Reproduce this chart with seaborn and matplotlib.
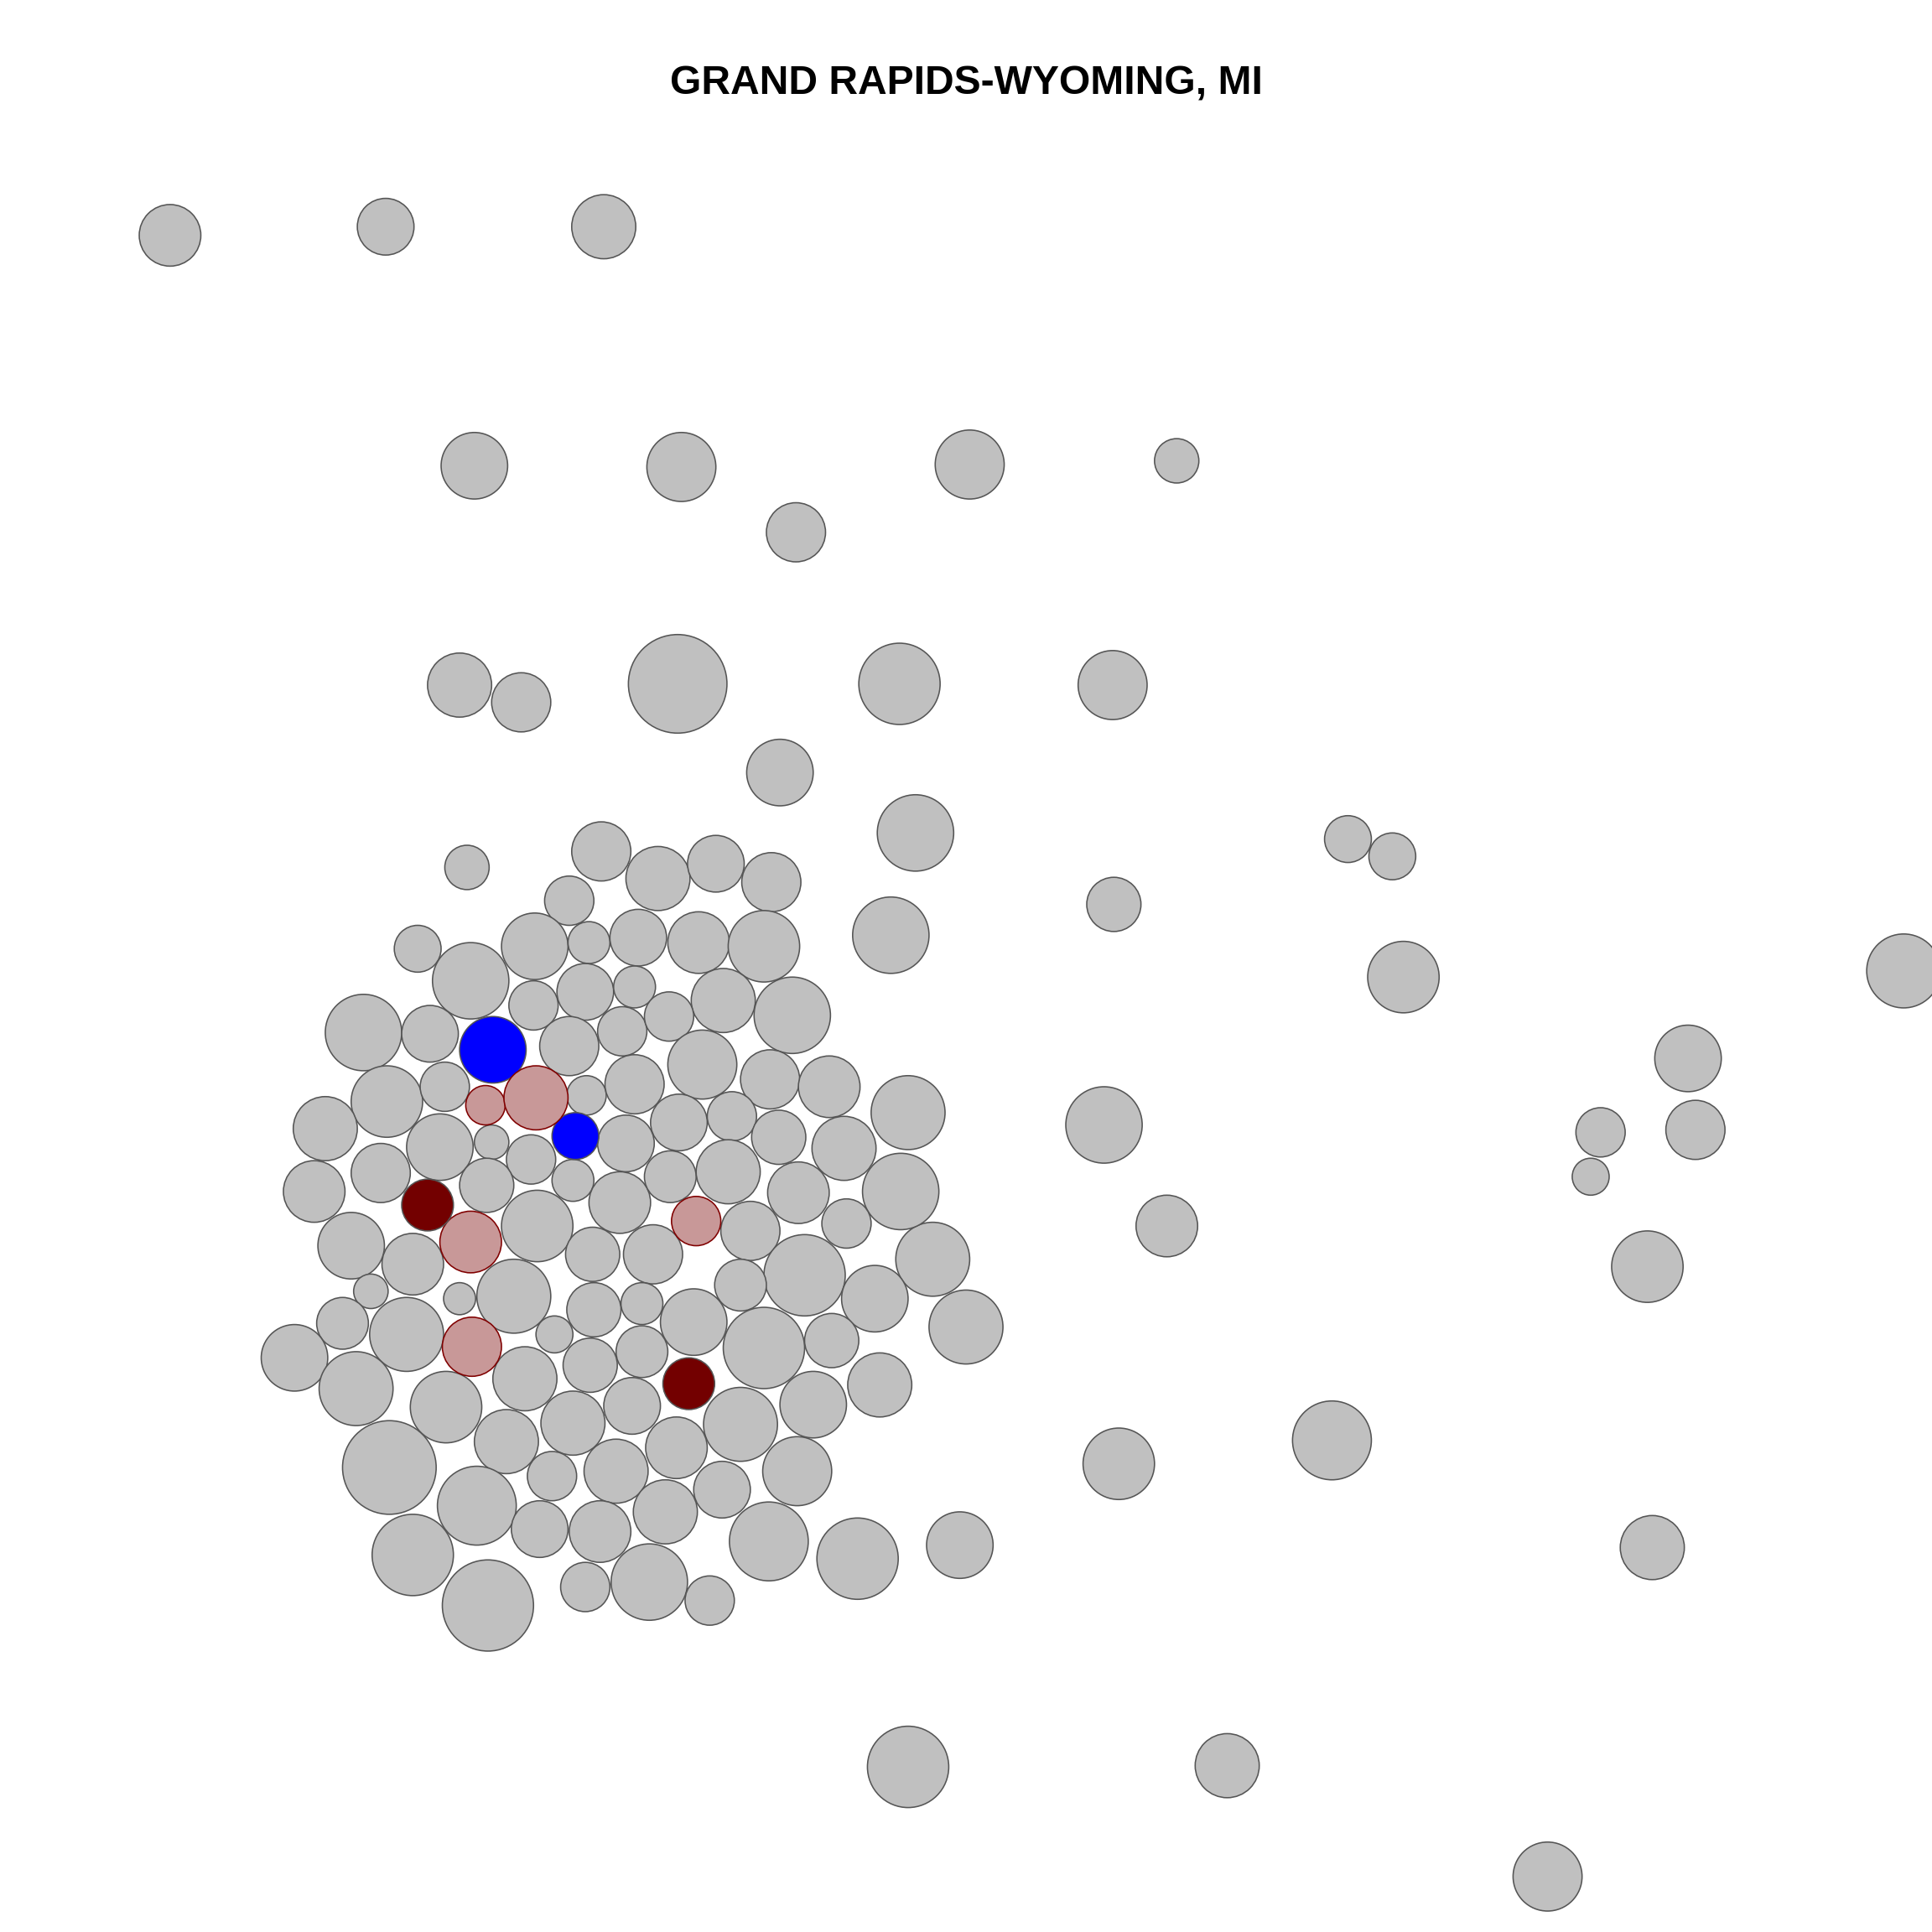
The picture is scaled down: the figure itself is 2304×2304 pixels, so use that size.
import numpy as np
import pandas as pd
import matplotlib
matplotlib.use("Agg")
import matplotlib.pyplot as plt
import seaborn as sns

# bubble layout coordinates (layout units), radius-like value and group
x = [138, 313, 490, 385, 553, 787, 955, 646, 373, 423, 550, 730, 903, 633, 743, 1094, 1130, 904, 723, 1139,
     1545, 1370, 1299, 1376, 1291, 896, 947, 1337, 1081, 908, 1341, 737, 996, 1256, 779, 696, 784, 757, 731, 737, 714,
     379, 488, 534, 581, 626, 462, 339, 434, 478, 518, 567, 620, 382, 433, 475, 515, 587, 643, 295, 349, 400, 462,
     505, 543, 570, 314, 361, 394, 435, 476, 515, 625, 673, 264, 357, 399, 431, 467, 508, 551, 594, 632, 685, 309,
     395, 465, 503, 544, 591, 648, 255, 347, 436, 565, 382, 609, 687, 285, 335, 481, 530, 653, 417, 601, 301, 373,
     482, 521, 563, 710, 278, 330, 450, 383, 479, 521, 620, 675, 239, 426, 559, 289, 362, 513, 465, 601, 660, 411,
     549, 316, 500, 448, 647, 387, 586, 540, 438, 487, 624, 335, 475, 527, 576, 396]
y = [191, 184, 184, 378, 379, 377, 374, 432, 556, 570, 555, 555, 556, 627, 676, 681, 695, 734, 759, 793,
     788, 859, 919, 917, 955, 913, 995, 1028, 1169, 1188, 1256, 1434, 1433, 1523, 1254, 1265, 1077, 1022, 967, 903, 1124,
     704, 691, 713, 701, 716, 731, 770, 768, 765, 761, 765, 768, 796, 816, 805, 801, 812, 824, 838, 839, 852, 849,
     837, 825, 864, 894, 882, 897, 891, 889, 880, 876, 882, 916, 931, 927, 941, 922, 928, 911, 906, 923, 932, 952,
     962, 958, 976, 955, 951, 968, 967, 978, 995, 991, 1008, 999, 993, 1011, 1026, 1018, 1018, 1035, 1052, 1043, 1048, 1054,
     1063, 1058, 1073, 1054, 1074, 1083, 1083, 1093, 1108, 1097, 1094, 1088, 1102, 1119, 1123, 1127, 1142, 1141, 1155, 1156, 1140, 1170,
     1175, 1191, 1194, 1198, 1194, 1222, 1209, 1227, 1241, 1243, 1251, 1262, 1288, 1284, 1299, 1303]
radius = [25, 23, 26, 27, 28, 28, 18, 24, 26, 24, 40, 33, 28, 27, 31, 19, 19, 22, 31, 29,
          30, 27, 20, 24, 15, 31, 25, 29, 32, 29, 26, 33, 26, 28, 27, 33, 30, 30, 31, 30, 26,
          18, 24, 26, 23, 24, 20, 19, 27, 17, 23, 25, 29, 31, 20, 23, 17, 26, 31, 31, 23, 27, 24,
          20, 20, 28, 29, 20, 16, 26, 16, 24, 24, 25, 26, 27, 14, 20, 19, 23, 23, 20, 22, 26, 24,
          22, 17, 25, 21, 26, 25, 25, 21, 29, 20, 25, 24, 20, 27, 25, 22, 24, 33, 30, 21, 14, 13,
          22, 17, 27, 27, 21, 30, 15, 24, 22, 21, 33, 22, 27, 26, 21, 30, 29, 23, 26, 30, 27, 26,
          25, 38, 26, 20, 28, 32, 23, 26, 23, 25, 32, 33, 20, 31, 20, 37]
group = ["other"] * len(x)
special = {(400, 852): "blue", (467, 922): "blue",
           (394, 897): "pink", (435, 891): "pink", (565, 991): "pink", (382, 1008): "pink", (383, 1093): "pink",
           (347, 978): "darkred", (559, 1123): "darkred"}
for i in range(len(x)):
    group[i] = special.get((x[i], y[i]), "other")

df = pd.DataFrame({"x": x, "y": y, "r": radius, "group": group})
df["area"] = df["r"] ** 2

W = 1568.0
fig = plt.figure(figsize=(16, 16), dpi=144)
ax = fig.add_axes([0, 0, 1, 1])
ax.set_xlim(0, W)
ax.set_ylim(W, 0)
ax.axis("off")

# points per layout unit: 16in*72pt / 1568 units
ppu = 16 * 72 / W
amin, amax = df["area"].min(), df["area"].max()
smin, smax = (2 * ppu) ** 2 * amin, (2 * ppu) ** 2 * amax

fills = {"other": "#C0C0C0", "blue": "#0000FF", "pink": "#C89898", "darkred": "#730000"}
edges = {"other": "#555555", "blue": "#555555", "pink": "#800000", "darkred": "#555555"}

for g in ["other", "blue", "pink", "darkred"]:
    sub = df[df["group"] == g]
    sns.scatterplot(data=sub, x="x", y="y", size="area", sizes=(smin, smax), size_norm=(amin, amax),
                    color=fills[g], edgecolor=edges[g], linewidth=0.8, alpha=1, legend=False, ax=ax, zorder=2)

ax.set_xlim(0, W)
ax.set_ylim(W, 0)
ax.axis("off")

fig.text(0.5, 1 - 68 / W, "GRAND RAPIDS-WYOMING, MI", ha="center", va="center",
         fontsize=24, fontweight="bold", family=["Liberation Sans", "DejaVu Sans"])

fig.savefig("out.png", dpi=144, facecolor="white")
